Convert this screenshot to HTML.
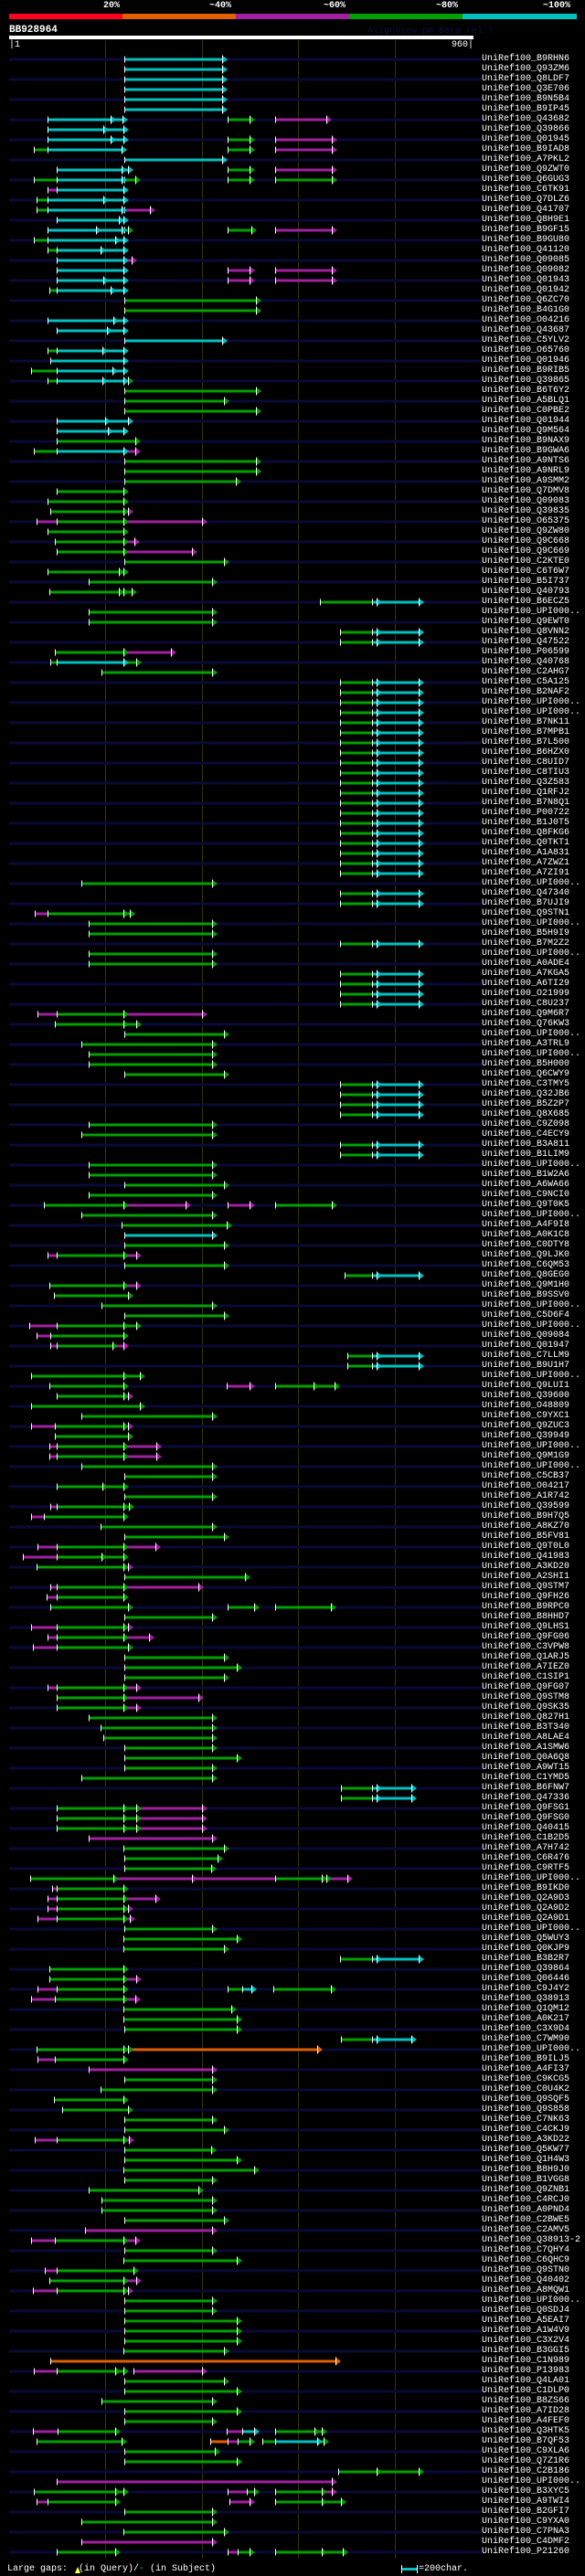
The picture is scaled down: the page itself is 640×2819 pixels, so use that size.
<!DOCTYPE html>
<html><head><meta charset="utf-8">
<style>
html,body{margin:0;padding:0;background:#000;}
body{width:640px;height:2819px;position:relative;overflow:hidden;font-family:"Liberation Mono",monospace;color:#fff;}
.t{position:absolute;font-size:10px;font-weight:bold;white-space:pre;line-height:10px;}
pre{position:absolute;left:527px;top:59px;margin:0;font-family:"Liberation Mono",monospace;font-size:10px;line-height:11px;color:#fff;}
svg{position:absolute;left:0;top:0;}
</style></head><body>
<svg id="s" width="640" height="2819" xmlns="http://www.w3.org/2000/svg">
<rect x="10" y="15" width="124" height="6" fill="#ff0020"/>
<rect x="134" y="15" width="124" height="6" fill="#e06000"/>
<rect x="258" y="15" width="124" height="6" fill="#a020a0"/>
<rect x="382" y="15" width="124" height="6" fill="#00a000"/>
<rect x="506" y="15" width="125" height="6" fill="#00c0c0"/>
<rect x="10" y="39" width="508" height="4" fill="#fff"/>
<g id="g"></g>
<rect x="439" y="2810" width="17" height="3" fill="#00c0c0"/>
<rect x="439" y="2807" width="1" height="9" fill="#fff"/>
<rect x="456" y="2807" width="1" height="9" fill="#fff"/>
<polygon points="82,2816 85,2809 88,2816" fill="#ffff60"/>
</svg>
<div class="t" style="left:113px;top:2px;">20%</div>
<div class="t" style="left:229px;top:2px;">~40%</div>
<div class="t" style="left:354px;top:2px;">~60%</div>
<div class="t" style="left:477px;top:2px;">~80%</div>
<div class="t" style="left:594px;top:2px;">~100%</div>
<div class="t" style="left:10px;top:28px;font-size:11px;">BB928964</div>
<div class="t" style="left:402px;top:30px;color:#101040;font-weight:normal;">AlignView.pm Beta rel.7</div>
<div class="t" style="left:10px;top:45px;font-weight:normal;">|1</div>
<div class="t" style="left:494px;top:45px;font-weight:normal;">960|</div>
<div class="t" style="left:8px;top:2807px;font-weight:normal;">Large gaps:  (in Query)/<span style="color:#00c0c0">-</span> (in Subject)</div>
<div class="t" style="left:458px;top:2807px;font-weight:normal;">=200char.</div>
<pre>UniRef100_B9RHN6
UniRef100_Q93ZM6
UniRef100_Q8LDF7
UniRef100_Q3E706
UniRef100_B9N5B4
UniRef100_B9IP45
UniRef100_Q43682
UniRef100_Q39866
UniRef100_Q01945
UniRef100_B9IAD8
UniRef100_A7PKL2
UniRef100_Q9ZWT0
UniRef100_Q6GUG3
UniRef100_C6TK91
UniRef100_Q7DLZ6
UniRef100_Q41707
UniRef100_Q8H9E1
UniRef100_B9GF15
UniRef100_B9GU80
UniRef100_Q41120
UniRef100_Q09085
UniRef100_Q09082
UniRef100_Q01943
UniRef100_Q01942
UniRef100_Q6ZC70
UniRef100_B4G1G0
UniRef100_O04216
UniRef100_Q43687
UniRef100_C5YLV2
UniRef100_O65760
UniRef100_Q01946
UniRef100_B9RIB5
UniRef100_Q39865
UniRef100_B6T6Y2
UniRef100_A5BLQ1
UniRef100_C0PBE2
UniRef100_Q01944
UniRef100_Q9M564
UniRef100_B9NAX9
UniRef100_B9GWA6
UniRef100_A9NTS6
UniRef100_A9NRL9
UniRef100_A9SMM2
UniRef100_Q7DMV8
UniRef100_Q09083
UniRef100_Q39835
UniRef100_O65375
UniRef100_Q9ZW80
UniRef100_Q9C668
UniRef100_Q9C669
UniRef100_C2KTE0
UniRef100_C6T6W7
UniRef100_B5I737
UniRef100_Q40793
UniRef100_B6ECZ5
UniRef100_UPI000..
UniRef100_Q9EWT0
UniRef100_Q8VNN2
UniRef100_Q47522
UniRef100_P06599
UniRef100_Q40768
UniRef100_C2AHG7
UniRef100_C5A125
UniRef100_B2NAF2
UniRef100_UPI000..
UniRef100_UPI000..
UniRef100_B7NK11
UniRef100_B7MPB1
UniRef100_B7L500
UniRef100_B6HZX0
UniRef100_C8UID7
UniRef100_C8TIU3
UniRef100_Q3Z583
UniRef100_Q1RFJ2
UniRef100_B7N8Q1
UniRef100_P00722
UniRef100_B1J0T5
UniRef100_Q8FKG6
UniRef100_Q0TKT1
UniRef100_A1A831
UniRef100_A7ZWZ1
UniRef100_A7ZI91
UniRef100_UPI000..
UniRef100_Q47340
UniRef100_B7UJI9
UniRef100_Q9STN1
UniRef100_UPI000..
UniRef100_B5H9I9
UniRef100_B7M2Z2
UniRef100_UPI000..
UniRef100_A0ADE4
UniRef100_A7KGA5
UniRef100_A6TI29
UniRef100_O21999
UniRef100_C8U237
UniRef100_Q9M6R7
UniRef100_Q76KW3
UniRef100_UPI000..
UniRef100_A3TRL9
UniRef100_UPI000..
UniRef100_B5H000
UniRef100_Q6CWY9
UniRef100_C3TMY5
UniRef100_Q32JB6
UniRef100_B5Z2P7
UniRef100_Q8X685
UniRef100_C9Z098
UniRef100_C4ECY9
UniRef100_B3A811
UniRef100_B1LIM9
UniRef100_UPI000..
UniRef100_B1W2A6
UniRef100_A6WA66
UniRef100_C9NCI0
UniRef100_Q9T0K5
UniRef100_UPI000..
UniRef100_A4F9I8
UniRef100_A0K1C8
UniRef100_C0DTY8
UniRef100_Q9LJK0
UniRef100_C6QM53
UniRef100_Q8GEG0
UniRef100_Q9M1H0
UniRef100_B9SSV0
UniRef100_UPI000..
UniRef100_C5D6F4
UniRef100_UPI000..
UniRef100_Q09084
UniRef100_Q01947
UniRef100_C7LLM9
UniRef100_B9U1H7
UniRef100_UPI000..
UniRef100_Q9LUI1
UniRef100_Q39600
UniRef100_O48809
UniRef100_C9YXC1
UniRef100_Q9ZUC3
UniRef100_Q39949
UniRef100_UPI000..
UniRef100_Q9M1G9
UniRef100_UPI000..
UniRef100_C5CB37
UniRef100_O04217
UniRef100_A1R742
UniRef100_Q39599
UniRef100_B9H7Q5
UniRef100_A8KZ70
UniRef100_B5FV81
UniRef100_Q9T0L0
UniRef100_Q41983
UniRef100_A3KD20
UniRef100_A2SHI1
UniRef100_Q9STM7
UniRef100_Q9FH26
UniRef100_B9RPC0
UniRef100_B8HHD7
UniRef100_Q9LHS1
UniRef100_Q9FG06
UniRef100_C3VPW8
UniRef100_Q1ARJ5
UniRef100_A7IEZ0
UniRef100_C1SIP1
UniRef100_Q9FG07
UniRef100_Q9STM8
UniRef100_Q9SK35
UniRef100_Q827H1
UniRef100_B3T340
UniRef100_A8LAE4
UniRef100_A1SMW6
UniRef100_Q0A6Q8
UniRef100_A9WT15
UniRef100_C1YMD5
UniRef100_B6FNW7
UniRef100_Q47336
UniRef100_Q9FSG1
UniRef100_Q9FSG0
UniRef100_Q40415
UniRef100_C1B2D5
UniRef100_A7H742
UniRef100_C6R476
UniRef100_C9RTF5
UniRef100_UPI000..
UniRef100_B9IKD0
UniRef100_Q2A9D3
UniRef100_Q2A9D2
UniRef100_Q2A9D1
UniRef100_UPI000..
UniRef100_Q5WUY3
UniRef100_Q0KJP9
UniRef100_B3B2R7
UniRef100_Q39864
UniRef100_Q06446
UniRef100_C9J4Y2
UniRef100_Q38913
UniRef100_Q1QM12
UniRef100_A0K217
UniRef100_C3X9D4
UniRef100_C7WM90
UniRef100_UPI000..
UniRef100_B9ILJ5
UniRef100_A4FI37
UniRef100_C9KCG5
UniRef100_C0U4K2
UniRef100_Q9SQF5
UniRef100_Q9S858
UniRef100_C7NK63
UniRef100_C4CKJ9
UniRef100_A3KD22
UniRef100_Q5KW77
UniRef100_Q1H4W3
UniRef100_B8H9J0
UniRef100_B1VGG8
UniRef100_Q9ZNB1
UniRef100_C4RCJ0
UniRef100_A0PND4
UniRef100_C2BWE5
UniRef100_C2AMV5
UniRef100_Q38913-2
UniRef100_C7QHY4
UniRef100_C6QHC9
UniRef100_Q9STN0
UniRef100_Q40402
UniRef100_A8MQW1
UniRef100_UPI000..
UniRef100_Q0SDJ4
UniRef100_A5EAI7
UniRef100_A1W4V9
UniRef100_C3X2V4
UniRef100_B3GGI5
UniRef100_C1N989
UniRef100_P13983
UniRef100_Q4LA01
UniRef100_C1DLP0
UniRef100_B8ZS66
UniRef100_A7ID28
UniRef100_A4FEF0
UniRef100_Q3HTK5
UniRef100_B7QF53
UniRef100_C9XLA6
UniRef100_Q7Z1R6
UniRef100_C2B186
UniRef100_UPI000..
UniRef100_B3XYC5
UniRef100_A9TWI4
UniRef100_B2GFI7
UniRef100_C9YXA0
UniRef100_C7PNA3
UniRef100_C4DMF2
UniRef100_P21260</pre>
<script>
(function(){
var CB="g372-407 C407-412 C412-458";
var R=[];
function s(a,b,v){for(var i=a;i<=b;i++)R[i]=v;}
s(0,5,"C136-243");
R[6]="C52-121 C121-134 G249-273 M301-357";
R[7]="C52-113 C113-135";
R[8]="C52-121 C121-135 G249-273 M301-363";
R[9]="g37-52 C52-133 G249-273 M301-363";
R[10]="C136-243";
R[11]="C62-133 C133-140 G249-273 M301-363";
R[12]="g37-62 C62-133 G136-148 G249-273 G301-363";
R[13]="m52-62 C62-135";
R[14]="g40-52 C52-113 C113-135";
R[15]="g40-52 C52-133 M136-164";
R[16]="C62-130 C130-135";
R[17]="C52-105 C105-133 G136-140 G249-275 M301-363";
R[18]="g37-52 C52-126 C126-135";
R[19]="g52-62 C62-110 C110-135";
R[20]="C62-135 M136-144";
R[21]="C62-135 M249-273 M301-363";
R[22]="C62-113 C113-135 M249-273 M301-363";
R[23]="g54-62 C62-121 C121-135";
s(24,25,"G136-280");
R[26]="C52-124 C124-135";
R[27]="C62-117 C117-135";
R[28]="C136-243";
R[29]="g52-62 C62-112 C112-135";
R[30]="C55-135";
R[31]="g34-62 C62-123 C123-135";
R[32]="g52-62 C62-112 C112-135 G135-140";
R[33]="G136-280";R[34]="G136-245";R[35]="G136-280";
R[36]="C62-115 C115-140";
R[37]="C62-118 C118-135";
R[38]="G62-148";
R[39]="g37-62 C62-135 M136-148";
s(40,41,"G136-280");
R[42]="G136-258";R[43]="G62-135";R[44]="G52-135";
R[45]="G55-135 M136-140";
R[46]="m40-62 G62-135 M136-221";
R[47]="G52-135";
R[48]="G60-135 M136-147";
R[49]="G62-135 M136-210";
R[50]="G136-245";
R[51]="G52-130 G130-135";
R[52]="G97-232";
R[53]="G54-130 G130-135 G135-144";
R[54]="g350-407 C407-412 C412-458";
s(55,56,"G97-232");
s(57,58,CB);
R[59]="G60-135 M136-187";
R[60]="g55-62 C62-135 G135-149";
R[61]="G111-232";
s(62,81,CB);
R[82]="G89-232";
s(83,84,CB);
R[85]="m38-52 G52-135 G135-142";
s(86,87,"G97-232");
R[88]=CB;
s(89,90,"G97-232");
s(91,94,CB);
R[95]="m41-62 G62-135 M136-221";
R[96]="G60-135 G135-149";
R[97]="G136-245";R[98]="G89-232";
s(99,100,"G97-232");
R[101]="G136-245";
s(102,105,CB);
R[106]="G97-232";R[107]="G89-232";
s(108,109,CB);
s(110,111,"G97-232");
R[112]="G136-245";R[113]="G97-232";
R[114]="G48-135 M136-203 M249-273 G301-363";
R[115]="G89-232";R[116]="G133-248";R[117]="C136-232";R[118]="G136-245";
R[119]="m52-62 G62-135 M135-149";
R[120]="G136-245";
R[121]="g377-407 C407-412 C412-458";
R[122]="G54-135 M135-149";
R[123]="G59-140";R[124]="G111-232";R[125]="G136-245";
R[126]="m32-62 G62-135 G135-149";
R[127]="m40-55 G55-135";
R[128]="m55-62 G62-123 M123-135";
s(129,130,"g380-407 C407-412 C412-458");
R[131]="G34-135 G135-153";
R[132]="G54-135 M248-273 G301-343 G343-366";
R[133]="G62-135 M135-140";
R[134]="G34-153";R[135]="G89-232";
R[136]="m34-60 G60-135 M135-140";
R[137]="G60-140";
s(138,139,"m54-62 G62-135 M136-171");
R[140]="G89-232";R[141]="G136-232";
R[142]="G62-112 G112-135";
R[143]="G136-232";
R[144]="m55-62 G62-135 G135-141";
R[145]="m34-48 G48-135";
R[146]="G110-232";R[147]="G136-245";
R[148]="m41-62 G62-135 M135-170";
R[149]="m25-62 G62-111 G111-135";
R[150]="G40-135 M135-140";
R[151]="G136-268";
R[152]="m55-62 G62-135 M136-217";
R[153]="m51-62 G62-135";
R[154]="G55-140 G249-278 G301-362";
R[155]="G136-232";
R[156]="m34-62 G62-135 M135-140";
R[157]="m52-62 G62-135 M136-163";
R[158]="m36-62 G62-140";
R[159]="G136-245";R[160]="G136-259";R[161]="G136-245";
R[162]="m52-62 G62-135 M135-149";
R[163]="G62-135 M136-217";
R[164]="G62-135 M135-149";
R[165]="G97-232";R[166]="G110-232";R[167]="G113-232";R[168]="G136-232";
R[169]="G136-259";R[170]="G136-232";R[171]="G89-232";
s(172,173,"g373-407 C407-412 C412-450");
s(174,176,"G62-135 G135-149 M149-221");
R[177]="M97-232";R[178]="G135-245";R[179]="G136-238";R[180]="G136-231";
R[181]="G33-124 M124-210 m210-301 G301-352 G352-357 M357-380";
R[182]="m57-62 G62-135";
R[183]="m52-62 G62-135 M136-170";
R[184]="m52-62 G62-135 M135-140";
R[185]="m41-62 G62-135 M135-142";
R[186]="G136-232";R[187]="G135-259";R[188]="G135-245";
R[189]=CB;
R[190]="G54-135";
R[191]="G54-135 M135-149";
R[192]="m41-62 G62-135 g249-265 C265-275 G299-362";
R[193]="m34-60 G60-135 M135-148";
R[194]="G135-253";R[195]="G135-259";R[196]="G136-259";
R[197]="g373-407 C407-412 C412-450";
R[198]="G40-135 G135-140 O140-347";
R[199]="m41-60 G60-135";
R[200]="M97-232";R[201]="G136-232";R[202]="G110-232";R[203]="G59-135";
R[204]="G68-140";R[205]="G136-232";R[206]="G136-245";
R[207]="m38-62 G62-135 M135-141";
R[208]="G136-231";R[209]="G136-259";R[210]="G135-278";R[211]="G136-232";
R[212]="G97-217";
s(213,214,"G111-232");
R[215]="G136-245";R[216]="M93-232";
R[217]="m34-60 G60-135 M135-148";
R[218]="G136-232";R[219]="G135-259";
R[220]="m49-62 G62-146";
R[221]="G54-135 M135-149";
R[222]="m36-62 G62-135 M135-140";
s(223,224,"G136-232");
s(225,227,"G136-259");
R[228]="G135-245";
R[229]="O55-367";
R[230]="m37-62 G62-126 G126-135 M146-221";
R[231]="G136-245";R[232]="G136-259";R[233]="G111-232";R[234]="G136-259";R[235]="G136-232";
R[236]="m36-63 G63-126 m248-265 C265-278 G301-344 G344-352";
R[237]="G40-133 o230-249 m249-260 G260-273 g287-301 C301-347 G347-354";
R[238]="G136-235";R[239]="G136-259";
R[240]="G370-412 G412-458";
R[241]="M62-363";
R[242]="G37-126 G126-135 m249-270 G270-278 G301-352 M352-363";
R[243]="m40-52 G52-126 M251-273 G301-352 G352-373";
R[244]="G136-232";R[245]="G89-232";R[246]="G135-245";R[247]="M89-232";
R[248]="G62-126 m249-260 G260-273 G301-352 G352-375";
var col={c:"#00c0c0",g:"#00a000",m:"#a020a0",o:"#e06000"};
var h=[];
for(var x of [115,221,326,432]) h.push('<rect x="'+x+'" y="44" width="1" height="2756" fill="#333300"/>');
for(var r=0;r<249;r++){
 var c=65+11*r;
 if(r%2==0) h.push('<rect x="10" y="'+(c-1.5)+'" width="517" height="3" fill="#0a0a38"/>');
}
for(var r=0;r<249;r++){
 var c=65+11*r, v=R[r]; if(!v) continue;
 var segs=v.split(" "), arr=[];
 segs.forEach(function(sg){
  var L=sg[0], k=L.toLowerCase(), p=sg.slice(1).split("-"), a=+p[0], b=+p[1], f=col[k];
  h.push('<rect x="'+a+'" y="'+(c-1.5)+'" width="'+(b-a)+'" height="3" fill="'+f+'"/>');
  h.push('<rect x="'+a+'" y="'+(c-3.5)+'" width="1" height="7" fill="#fff"/>');
  if(L!==k) arr.push([b,f]);
 });
 arr.forEach(function(q){
  var b=q[0];
  h.push('<polygon points="'+b+','+(c-4.5)+' '+(b+6)+','+c+' '+b+','+(c+4.5)+'" fill="'+q[1]+'"/>');
  h.push('<rect x="'+b+'" y="'+(c-4.5)+'" width="1" height="9" fill="#fff"/>');
 });
}
document.getElementById("g").innerHTML=h.join("");
})();
</script>
</body></html>
